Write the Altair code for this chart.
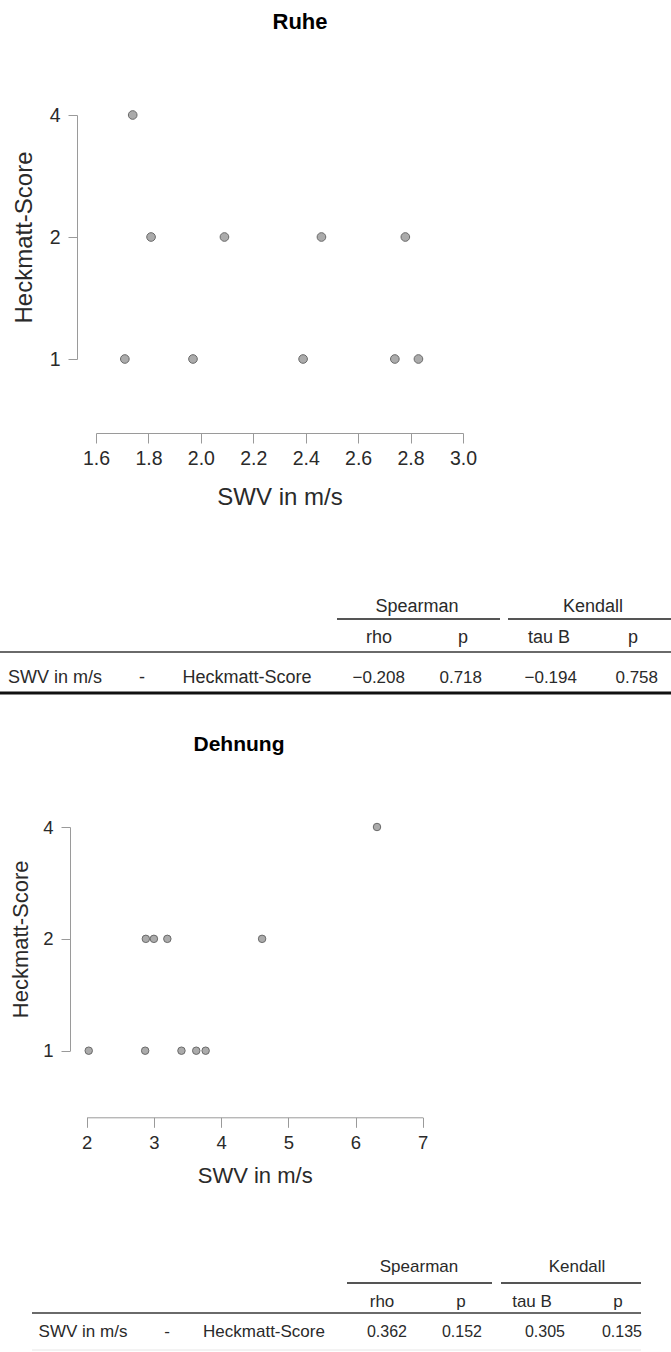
import altair as alt
import pandas as pd

# ---------------- data ----------------
PANELS = ["Ruhe", "Dehnung"]
X_TITLE = "SWV in m/s"
Y_TITLE = "Heckmatt-Score"

ruhe_swv = [1.71, 1.74, 1.81, 1.97, 2.09, 2.39, 2.46, 2.74, 2.78, 2.83]
ruhe_score = [1, 4, 2, 1, 2, 1, 2, 1, 2, 1]
dehn_swv = [2.03, 2.87, 2.88, 3.00, 3.20, 3.41, 3.63, 3.77, 4.61, 6.32]
dehn_score = [1, 1, 2, 2, 2, 1, 1, 1, 2, 4]

Y_TICKS = [1, 2, 4]
RUHE_X_TICKS = [1.6, 1.8, 2.0, 2.2, 2.4, 2.6, 2.8, 3.0]
DEHN_X_TICKS = [2, 3, 4, 5, 6, 7]

GROUPS = ["Spearman", "Kendall"]
SUBHEADS = ["rho", "p", "tau B", "p"]
PAIR = ["SWV in m/s", "-", "Heckmatt-Score"]
RUHE_STATS = [-0.208, 0.718, -0.194, 0.758]
DEHN_STATS = [0.362, 0.152, 0.305, 0.135]

# ---------------- layout / style ----------------
W, H = 671, 1352
FONT = "Liberation Sans"
AXIS_GREY = "#9a9a9a"
TXT = "#2a2a2a"
DUMMY = pd.DataFrame({"d": [0]})


def scatter(swv, score, x_ticks, x_fmt, x_px, y_px, x_axis_at, y_axis_at,
            pt_size, lab_size, ttl_size, ttl_x, ttl_y):
    df = pd.DataFrame({"swv": swv, "score": score})
    x = alt.X(
        "swv:Q",
        scale=alt.Scale(domain=[x_ticks[0], x_ticks[-1]], range=x_px, nice=False, zero=False),
        axis=alt.Axis(
            orient="bottom", offset=x_axis_at - H, values=x_ticks, format=x_fmt,
            title=X_TITLE, grid=False, domainColor=AXIS_GREY, tickColor=AXIS_GREY,
            tickSize=10, labelFontSize=lab_size, labelColor=TXT, labelPadding=6,
            labelFont=FONT, labelFlush=False, labelOverlap=False,
            titleFont=FONT, titleFontSize=ttl_size, titleFontWeight="normal",
            titleColor=TXT, titleY=ttl_y, titleBaseline="middle",
        ),
    )
    y = alt.Y(
        "score:Q",
        scale=alt.Scale(type="log", base=2, domain=[1, 4], range=y_px, nice=False),
        axis=alt.Axis(
            orient="left", offset=-y_axis_at, values=Y_TICKS, format="d",
            title=Y_TITLE, grid=False, domainColor=AXIS_GREY, tickColor=AXIS_GREY,
            tickSize=9, labelFontSize=lab_size, labelColor=TXT, labelPadding=8,
            labelFont=FONT, labelFlush=False, labelOverlap=False,
            titleFont=FONT, titleFontSize=ttl_size, titleFontWeight="normal",
            titleColor=TXT, titleX=ttl_x, titleBaseline="middle",
        ),
    )
    return alt.Chart(df).mark_circle(
        fill="#ababab", stroke="#6a6a6a", strokeWidth=1, size=pt_size, opacity=1
    ).encode(x=x, y=y)


def title_text(txt, px, py, size):
    return alt.Chart(DUMMY).mark_text(
        font=FONT, fontSize=size, fontWeight="bold", color="black", baseline="middle"
    ).encode(x=alt.value(px), y=alt.value(py), text=alt.value(txt))


def rule(x1, x2, y, color, width):
    return alt.Chart(DUMMY).mark_rule(color=color, strokeWidth=width).encode(
        x=alt.value(x1), x2=alt.value(x2), y=alt.value(y)
    )


def table(stats, rows_px, centre_px, value_px, word_size, num_size):
    # centred cells: pair labels, sub headers, spanning group headers
    cells = pd.DataFrame({
        "text": PAIR + SUBHEADS + GROUPS,
        "c": [0, 1, 2, 3, 4, 5, 6, 3.5, 5.5],
        "r": [2, 2, 2, 1, 1, 1, 1, 0, 0],
    })
    cdom = [0, 1, 2, 3, 3.5, 4, 5, 5.5, 6]
    words = alt.Chart(cells).mark_text(
        font=FONT, fontSize=word_size, color=TXT, baseline="middle", align="center"
    ).encode(
        x=alt.X("c:Q", scale=alt.Scale(domain=cdom, range=centre_px, zero=False, nice=False), axis=None),
        y=alt.Y("r:Q", scale=alt.Scale(domain=[0, 1, 2], range=rows_px, zero=False, nice=False), axis=None),
        text="text:N",
    )
    vals = pd.DataFrame({"v": stats, "c": [3, 4, 5, 6], "r": [2, 2, 2, 2]})
    nums = alt.Chart(vals).mark_text(
        font=FONT, fontSize=num_size, color=TXT, baseline="middle", align="right"
    ).encode(
        x=alt.X("c:Q", scale=alt.Scale(domain=[3, 4, 5, 6], range=value_px, zero=False, nice=False), axis=None),
        y=alt.Y("r:Q", scale=alt.Scale(domain=[0, 1, 2], range=rows_px, zero=False, nice=False), axis=None),
        text=alt.Text("v:Q", format=".3f"),
    )
    return [words, nums]


layers = []

# ---- Ruhe ----
layers.append(title_text(PANELS[0], 300, 22, 22))
layers.append(scatter(ruhe_swv, ruhe_score, RUHE_X_TICKS, ".1f", [96, 463], [359, 115],
                      433, 77, 75, 19.5, 24, -53, 64))
layers += table(RUHE_STATS, [607, 638, 678],
                [55, 142, 247, 379, 417, 463, 549, 593, 633],
                [405, 482, 577, 658], 18, 17)
layers += [
    rule(337, 500, 619, "#555555", 2),
    rule(508, 671, 619, "#555555", 2),
    rule(0, 671, 652, "#6a6a6a", 2),
    rule(0, 671, 693, "#111111", 3),
]

# ---- Dehnung ----
layers.append(title_text(PANELS[1], 239, 745, 21))
layers.append(scatter(dehn_swv, dehn_score, DEHN_X_TICKS, "d", [86.7, 422.7], [1050.7, 827],
                      1117.3, 70, 56, 18.5, 22, -50, 58))
layers += table(DEHN_STATS, [1267, 1302, 1332],
                [83, 167, 264, 382, 419, 461, 532, 577, 618],
                [407, 482, 565, 642], 17, 16)
layers += [
    rule(347, 492, 1283, "#555555", 2),
    rule(501, 641, 1283, "#555555", 2),
    rule(32, 641, 1313, "#6a6a6a", 2),
    rule(32, 641, 1350, "#e6e6e6", 1),
]

chart = (
    alt.layer(*layers)
    .resolve_scale(x="independent", y="independent")
    .properties(width=W, height=H, padding=0, autosize=alt.AutoSizeParams(type="none"))
    .configure_view(stroke=None)
)

chart.save("out.html", embed_options={"renderer": "svg", "actions": False})
